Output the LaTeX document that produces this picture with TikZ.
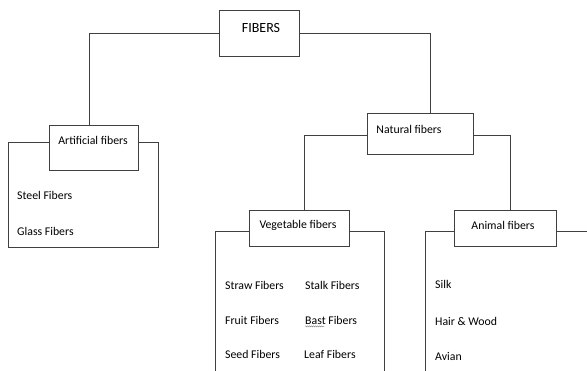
\documentclass[tikz,border=0pt]{standalone}
\usepackage{fontspec}
\setmainfont{Carlito}
\usetikzlibrary{decorations.pathmorphing}
\begin{document}
\begin{tikzpicture}[x=1pt,y=-1pt,
  box/.style={draw=black!75, line width=0.8pt, fill=white, inner sep=0pt},
  lbl/.style={inner sep=0pt, font=\fontsize{11.8}{13}\selectfont},
  item/.style={inner sep=0pt, anchor=west, font=\fontsize{11.8}{13}\selectfont},
  conn/.style={draw=black!75, line width=0.8pt}]
\useasboundingbox[fill=white] (0,0) rectangle (587,370);
% containers
\coordinate (artL) at (49,142);
\coordinate (artR) at (138,142);
\draw[conn] (artL) -- (8,142) -- (8,247) -- (158,247) -- (158,142) -- (artR);
\coordinate (vegL) at (249,231.5);
\coordinate (vegR) at (349,231.5);
\coordinate (vegBL) at (215,372);
\coordinate (vegBR) at (384,372);
\draw[conn] (vegL) -- (215,231.5) -- (vegBL);
\draw[conn] (vegR) -- (384,231.5) -- (vegBR);
\coordinate (aniL) at (454,231.5);
\coordinate (aniR) at (556,231.5);
\coordinate (aniBL) at (425,372);
\coordinate (aniE) at (589,231.5);
\draw[conn] (aniL) -- (425,231.5) -- (aniBL);
\draw[conn] (aniR) -- (aniE);
% boxes
\node[box, minimum width=80pt, minimum height=46pt] (fibers) at (259,33) {};
\node[lbl, font=\fontsize{14}{16}\selectfont] (fibersT) at (261,28) {FIBERS};
\node[box, minimum width=89pt, minimum height=45pt] (art) at (93.5,147.5) {};
\node[lbl] (artT) at (93,140) {Artificial fibers};
\node[box, minimum width=106pt, minimum height=41pt] (nat) at (420,133.5) {};
\node[lbl] (natT) at (409,129) {Natural fibers};
\node[box, minimum width=100pt, minimum height=36pt] (veg) at (299,228) {};
\node[lbl] (vegT) at (298,225) {Vegetable fibers};
\node[box, minimum width=102pt, minimum height=36pt] (ani) at (505,228) {};
\node[lbl] (aniT) at (503,225) {Animal fibers};
% connectors
\draw[conn] (fibers.west) -| ([xshift=-4.5pt]art.north);
\draw[conn] (fibers.east) -| ([xshift=10pt]nat.north);
\draw[conn] ([yshift=-1.5pt]nat.west) -| ([xshift=5pt]veg.north);
\draw[conn] ([yshift=-1.5pt]nat.east) -| ([xshift=5pt]ani.north);
% items
\node[item] (steel) at (17,195) {Steel Fibers};
\node[item] (glass) at (17,231) {Glass Fibers};
\node[item] (straw) at (225,285) {Straw Fibers};
\node[item] (stalk) at (305,285) {Stalk Fibers};
\node[item] (fruit) at (225,320) {Fruit Fibers};
\node[item] (bast) at (305,320) {Bast Fibers};
\node[item] (seed) at (225,354) {Seed Fibers};
\node[item] (leaf) at (304,354) {Leaf Fibers};
\node[item] (silk) at (435,284) {Silk};
\node[item] (hair) at (435,321) {Hair \& Wood};
\node[item] (avian) at (435,356) {Avian};
\draw[black!45, line width=0.4pt, decorate, decoration={snake, amplitude=0.6pt, segment length=2pt}] ([yshift=-2pt]bast.south west) -- ++(19,0);
\end{tikzpicture}
\end{document}
